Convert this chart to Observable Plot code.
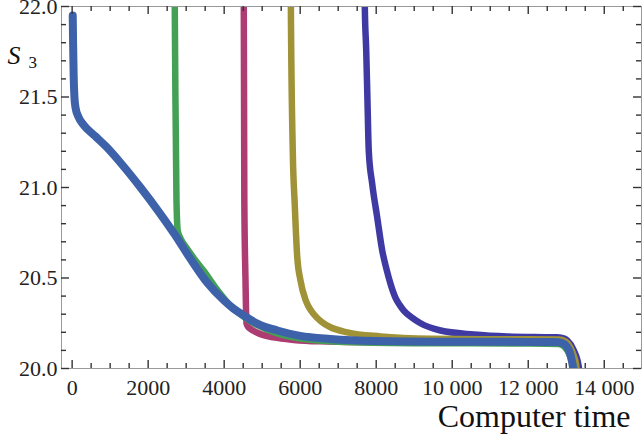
<!DOCTYPE html>
<html><head><meta charset="utf-8">
<script src="https://cdn.jsdelivr.net/npm/d3@7"></script>
<script src="https://cdn.jsdelivr.net/npm/@observablehq/plot@0.6"></script>
<style>body{margin:0;background:#fff} svg, svg text{font-family:'Liberation Serif','Times New Roman',serif !important}</style>
</head><body><div id="chart"></div>
<script>
// series: computer time (t) vs S3 (s)
const blueT = [15, 25, 40, 60, 90, 166, 305, 600, 900, 1300, 1800, 2300, 2700, 3100, 3550, 4000, 4250, 4500, 4900, 5400, 6000, 6800, 8000, 10000, 12000, 12700, 12900, 13020, 13100, 13150, 13180, 13200];
const blueS = [21.95, 21.8, 21.62, 21.5, 21.44, 21.39, 21.345, 21.285, 21.225, 21.13, 21.0, 20.86, 20.74, 20.61, 20.475, 20.375, 20.33, 20.295, 20.245, 20.21, 20.18, 20.163, 20.152, 20.148, 20.147, 20.146, 20.14, 20.12, 20.085, 20.04, 20.0, 19.95];

const greenT = [2695, 2700, 2718, 2745, 2779, 2850, 3000, 3200, 3460, 3800, 4200, 4700, 5300, 6000, 7000, 9000, 12000, 12800, 12950, 13080, 13170, 13230, 13260];
const greenS = [22.2, 22.0, 21.48, 20.93, 20.76, 20.72, 20.67, 20.61, 20.54, 20.44, 20.34, 20.26, 20.2, 20.165, 20.148, 20.14, 20.138, 20.136, 20.12, 20.08, 20.03, 19.99, 19.95];

const magentaT = [4515, 4516, 4530, 4560, 4587, 4630, 4692, 4800, 4955, 5300, 5830, 6500, 8000, 10000, 12000, 12800, 12950, 13060, 13150, 13210, 13240];
const magentaS = [22.2, 22.0, 20.93, 20.5, 20.25, 20.23, 20.219, 20.205, 20.19, 20.172, 20.158, 20.15, 20.145, 20.145, 20.144, 20.142, 20.125, 20.09, 20.04, 20.0, 19.95];

const oliveT = [5750, 5755, 5805, 5858, 5921, 6008, 6139, 6240, 6358, 6550, 6797, 7237, 8113, 9429, 10745, 12000, 12800, 12980, 13100, 13200, 13260, 13290];
const oliveS = [22.2, 22.0, 21.2, 20.9, 20.62, 20.486, 20.38, 20.335, 20.30, 20.26, 20.228, 20.20, 20.177, 20.164, 20.162, 20.162, 20.16, 20.15, 20.12, 20.07, 20.02, 19.95];

const indigoT = [7690, 7700, 7737, 7770, 7805, 7895, 8026, 8158, 8270, 8376, 8508, 8620, 8726, 8950, 9166, 9692, 10568, 11447, 12500, 12763, 12950, 13026, 13200, 13332, 13350];
const indigoS = [22.2, 22.0, 21.76, 21.48, 21.2, 21.02, 20.836, 20.652, 20.55, 20.468, 20.39, 20.35, 20.32, 20.28, 20.25, 20.21, 20.188, 20.177, 20.173, 20.172, 20.165, 20.155, 20.1, 20.007, 19.95];

const xMajor = [0, 2000, 4000, 6000, 8000, 10000, 12000, 14000];
const xLabels = ["0", "2000", "4000", "6000", "8000", "10 000", "12 000", "14 000"];
const xMinor = [500, 1000, 1500, 2500, 3000, 3500, 4500, 5000, 5500, 6500, 7000, 7500, 8500, 9000, 9500, 10500, 11000, 11500, 12500, 13000, 13500, 14500];
const yMajor = [20.0, 20.5, 21.0, 21.5, 22.0];
const yLabels = ["20.0", "20.5", "21.0", "21.5", "22.0"];
const yMinor = [20.1, 20.2, 20.3, 20.4, 20.6, 20.7, 20.8, 20.9, 21.1, 21.2, 21.3, 21.4, 21.6, 21.7, 21.8, 21.9];

const zip = (T, S) => T.map((t, i) => ({t, s: S[i]}));
const series = [
  {data: zip(indigoT, indigoS), color: "#3f3aa3", w: 6.5},
  {data: zip(oliveT, oliveS), color: "#a09236", w: 6.5},
  {data: zip(magentaT, magentaS), color: "#ad3c73", w: 6.5},
  {data: zip(greenT, greenS), color: "#44a055", w: 6.5},
  {data: zip(blueT, blueS), color: "#3e62a9", w: 8}
];

const tickColor = "#333";
const font = "Liberation Serif";
const W = 644, H = 441, mL = 61, mR = 3, mT = 6, mB = 73;
const fw = W - mL - mR, fh = H - mT - mB;
const maj = 8, mnr = 5;
const tw = 1.4;

const chart = Plot.plot({
  width: W, height: H,
  marginLeft: mL, marginRight: mR, marginTop: mT, marginBottom: mB,
  x: {domain: [-280, 14980], axis: null},
  y: {domain: [20, 22], axis: null},
  style: `font-family: 'Liberation Serif', serif; background: white; color: #222;`,
  marks: [
    ...series.map(d => Plot.line(d.data, {x: "t", y: "s", stroke: d.color, strokeWidth: d.w, clip: true, strokeLinejoin: "round", curve: "monotone-x"})),
    Plot.frame({stroke: "#999", strokeWidth: 1}),
    // tick labels
    Plot.axisX(xMajor, {anchor: "bottom", tickSize: 0, tickPadding: 11, fontSize: 22, fontFamily: font, label: null, tickFormat: d => xLabels[xMajor.indexOf(d)], fill: "#222"}),
    Plot.axisY(yMajor, {anchor: "left", tickSize: 0, tickPadding: 4, fontSize: 22, fontFamily: font, label: null, tickFormat: d => yLabels[yMajor.indexOf(d)], fill: "#222"}),
    // inward ticks on all four sides
    Plot.ruleX(xMajor, {x: d => d, insetTop: fh - maj, stroke: tickColor, strokeWidth: tw}),
    Plot.ruleX(xMinor, {x: d => d, insetTop: fh - mnr, stroke: tickColor, strokeWidth: tw}),
    Plot.ruleX(xMajor, {x: d => d, insetBottom: fh - maj, stroke: tickColor, strokeWidth: tw}),
    Plot.ruleX(xMinor, {x: d => d, insetBottom: fh - mnr, stroke: tickColor, strokeWidth: tw}),
    Plot.ruleY(yMajor, {y: d => d, insetRight: fw - maj, stroke: tickColor, strokeWidth: tw}),
    Plot.ruleY(yMinor, {y: d => d, insetRight: fw - mnr, stroke: tickColor, strokeWidth: tw}),
    Plot.ruleY(yMajor, {y: d => d, insetLeft: fw - maj, stroke: tickColor, strokeWidth: tw}),
    Plot.ruleY(yMinor, {y: d => d, insetLeft: fw - mnr, stroke: tickColor, strokeWidth: tw}),
    // axis titles
    Plot.text(["Computer time"], {frameAnchor: "bottom-right", dx: -11, dy: 58, textAnchor: "end", lineAnchor: "bottom", fontSize: 32, fontFamily: font, fill: "#111"}),
    Plot.text(["S"], {frameAnchor: "top-left", dx: -54, dy: 57, textAnchor: "start", lineAnchor: "bottom", fontSize: 26, fontFamily: font, fontStyle: "italic", fill: "#111"}),
    Plot.text(["3"], {frameAnchor: "top-left", dx: -33, dy: 61, textAnchor: "start", lineAnchor: "bottom", fontSize: 17, fontFamily: font, fill: "#111"})
  ]
});
document.getElementById("chart").appendChild(chart);
</script>
</body></html>
